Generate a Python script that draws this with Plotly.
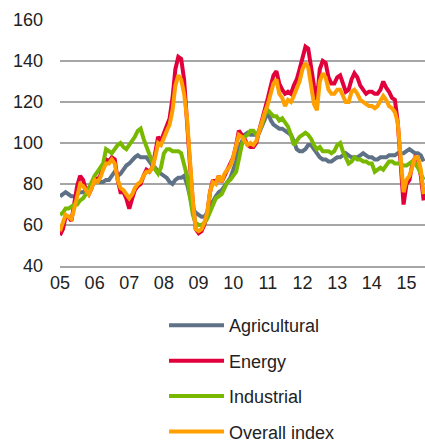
import plotly.graph_objects as go
import pandas as pd

dates = pd.date_range("2005-01-01", "2015-07-01", freq="MS")

agricultural = [
    74, 75, 76, 75, 74, 74, 75, 76, 76, 77, 78, 80,
    82, 81, 81, 81, 82, 82, 84, 86, 84, 85, 87, 89,
    90, 92, 93, 94, 93, 93, 93, 91, 89, 88, 86, 85,
    84, 83, 81, 80, 82, 83, 83, 84, 80, 73, 68, 66,
    65, 64, 64, 66, 69, 72, 74, 76, 77, 79, 81, 83,
    87, 91, 97, 101, 104, 105, 104, 104, 104, 105, 108, 112,
    115, 111, 109, 108, 107, 107, 106, 105, 104, 101, 97, 96,
    96, 97, 99, 99, 97, 95, 93, 92, 92, 91, 91, 92,
    93, 93, 94, 95, 94, 93, 93, 93, 94, 95, 94, 93,
    93, 92, 92, 93, 93, 93, 94, 94, 94, 95, 95, 95,
    96, 97, 96, 95, 95, 94, 91,
]
energy = [
    55, 58, 64, 64, 62, 70, 79, 84, 82, 77, 75, 78,
    83, 82, 84, 89, 92, 91, 93, 92, 82, 76, 76, 73,
    68, 73, 77, 79, 80, 84, 87, 86, 88, 95, 103, 101,
    105, 108, 112, 122, 136, 142, 141, 131, 113, 90, 71, 58,
    56, 57, 60, 65, 76, 82, 80, 84, 81, 84, 86, 89,
    93, 99, 106, 104, 102, 99, 98, 98, 100, 106, 111, 117,
    122, 128, 133, 135, 129, 126, 124, 125, 124, 128, 131, 136,
    142, 147, 146, 135, 128, 121, 136, 140, 139, 132, 129, 129,
    132, 133, 129, 125, 126, 131, 134, 132, 128, 126, 124, 125,
    125, 124, 124, 126, 130, 127, 125, 122, 121, 110, 89, 70,
    80, 82, 89, 93, 92, 84, 72,
]
industrial = [
    65, 66, 68, 68, 69, 70, 70, 72, 73, 75, 78, 81,
    84, 86, 88, 90, 97, 96, 95, 97, 99, 100, 98, 97,
    99, 101, 103, 106, 107, 102, 98, 95, 91, 87, 85, 88,
    95, 97, 97, 96, 96, 96, 95, 90, 84, 74, 65, 61,
    60, 60, 61, 63, 66, 70, 73, 74, 75, 78, 81, 82,
    84, 86, 92, 99, 103, 104, 106, 106, 104, 106, 109, 114,
    116, 114, 113, 113, 111, 112, 110, 108, 104, 99, 101, 103,
    104, 105, 104, 102, 99, 97, 98, 96, 96, 96, 95, 96,
    99, 100, 96, 93, 90, 91, 93, 92, 92, 91, 91, 90,
    90, 86, 87, 88, 87, 89, 91, 91, 90, 90, 90, 89,
    89, 90, 91, 90, 88, 85, 82,
]
overall = [
    57, 61, 65, 64, 63, 68, 75, 80, 79, 77, 75, 78,
    82, 81, 83, 87, 90, 90, 92, 90, 82, 78, 77, 75,
    73, 75, 78, 80, 81, 84, 86, 86, 88, 93, 100, 99,
    103, 106, 109, 116, 128, 133, 131, 124, 112, 91, 72, 58,
    57, 58, 61, 66, 76, 81, 80, 84, 81, 85, 87, 89,
    93, 98, 104, 103, 101, 99, 100, 99, 101, 106, 110, 115,
    119, 125, 129, 131, 124, 122, 118, 121, 120, 123, 126, 130,
    136, 139, 137, 127, 119, 116, 130, 134, 132, 126, 124, 124,
    126, 126, 123, 120, 120, 125, 126, 124, 121, 120, 119, 118,
    118, 117, 118, 121, 123, 121, 118, 117, 115, 110, 95, 76,
    82, 84, 88, 93, 93, 87, 75,
]

series_names = ["Agricultural", "Energy", "Industrial", "Overall index"]
series_values = [agricultural, energy, industrial, overall]
series_colors = ["#5E7186", "#E2003C", "#78B900", "#FFA000"]

year_ticks = pd.date_range("2005-01-01", "2015-01-01", freq="YS")
year_labels = ["05", "06", "07", "08", "09", "10", "11", "12", "13", "14", "15"]
y_ticks = [40, 60, 80, 100, 120, 140, 160]

fig = go.Figure()
for name, vals, col in zip(series_names, series_values, series_colors):
    fig.add_trace(go.Scatter(
        x=dates, y=vals, name=name, mode="lines", legendgroup=name,
        line=dict(color=col, width=4),
    ))

font_family = "Liberation Sans, Arial, sans-serif"
fig.update_layout(
    width=425, height=443,
    margin=dict(l=60, r=0, t=20, b=177, autoexpand=False),
    paper_bgcolor="white", plot_bgcolor="white",
    font=dict(family=font_family, size=18, color="#222222"),
    showlegend=True,
    legend=dict(
        x=0.285, y=-0.167, xanchor="left", yanchor="top",
        orientation="v", tracegroupgap=9, itemwidth=55,
        font=dict(family=font_family, size=18, color="#222222"),
        bgcolor="rgba(0,0,0,0)",
    ),
    xaxis=dict(
        type="date", range=["2005-01-01", "2015-07-15"],
        tickvals=list(year_ticks), ticktext=year_labels,
        showgrid=False, zeroline=False,
        showline=True, linecolor="#A6A6A6", linewidth=1.5,
        ticks="", tickfont=dict(size=18),
    ),
    yaxis=dict(
        range=[40, 160], tickvals=y_ticks,
        showgrid=True, gridcolor="#A6A6A6", gridwidth=1.5,
        zeroline=False, showline=False, ticks="",
        ticklabelstandoff=16, tickfont=dict(size=18),
    ),
)

fig.write_html("out.html", config={"displayModeBar": False},
               post_script="document.body.style.margin='0';")
